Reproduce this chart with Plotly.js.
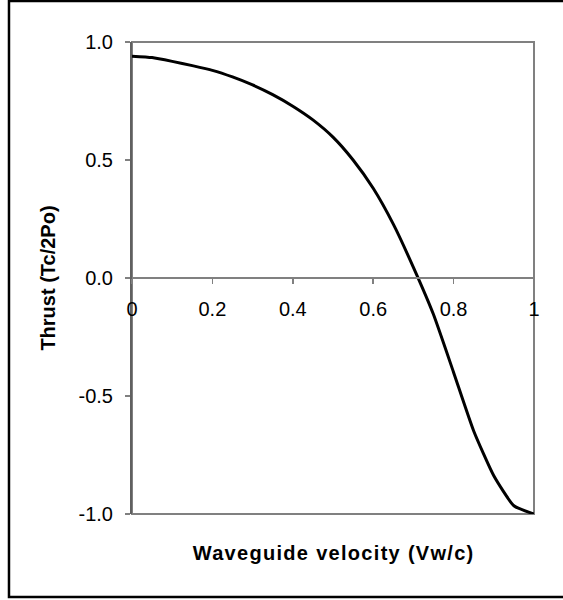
<!DOCTYPE html>
<html>
<head>
<meta charset="utf-8">
<script src="https://cdn.plot.ly/plotly-3.0.1.min.js"></script>
<style>
html,body{margin:0;padding:0;background:#fff;}
#chart .annotation-text{letter-spacing:1.3px;}
</style>
</head>
<body>
<div id="chart" style="width:563px;height:600px;"></div>
<script>
var velocity = [0, 0.05, 0.10, 0.15, 0.20, 0.25, 0.30, 0.35, 0.40, 0.45, 0.50,
                0.55, 0.60, 0.65, 0.70, 0.75, 0.80, 0.85, 0.90, 0.95, 1.00];
var thrust = [0.940, 0.934, 0.918, 0.900, 0.880, 0.852, 0.818, 0.777, 0.728, 0.670, 0.597,
              0.500, 0.380, 0.228, 0.045, -0.155, -0.400, -0.648, -0.838, -0.965, -1.000];
var xTicks = [0, 0.2, 0.4, 0.6, 0.8, 1];
var xTickLabels = ['0', '0.2', '0.4', '0.6', '0.8', '1'];
var yTicks = [-1, -0.5, 0, 0.5, 1];
var yTickLabels = ['-1.0', '-0.5', '0.0', '0.5', '1.0'];

var font = 'Liberation Sans, Arial, sans-serif';

var data = [{
  x: velocity, y: thrust, type: 'scatter', mode: 'lines',
  line: {color: '#000000', width: 3, shape: 'spline', smoothing: 0.5}, hoverinfo: 'skip'
}];

var layout = {
  width: 563, height: 600,
  margin: {l: 132, r: 29, t: 42, b: 86},
  paper_bgcolor: '#ffffff', plot_bgcolor: '#ffffff',
  showlegend: false,
  font: {family: font, size: 20, color: '#000000'},
  xaxis: {
    range: [0, 1], anchor: 'free', position: 0.5,
    tickvals: xTicks, ticktext: xTickLabels,
    ticks: 'outside', ticklen: 5, tickcolor: '#808080', tickwidth: 1.5,
    showline: true, linecolor: '#808080', linewidth: 2,
    showgrid: false, zeroline: false,
    ticklabelstandoff: 8,
    tickfont: {family: font, size: 20, color: '#000000'}
  },
  yaxis: {
    range: [-1, 1],
    tickvals: yTicks, ticktext: yTickLabels,
    ticks: 'outside', ticklen: 5, tickcolor: '#808080', tickwidth: 1.5,
    showline: true, linecolor: '#606060', linewidth: 2,
    showgrid: false, zeroline: false,
    ticklabelstandoff: 8,
    tickfont: {family: font, size: 20, color: '#000000'},
    title: {text: 'Thrust (Tc/2Po)', standoff: 18,
            font: {family: font, size: 20, color: '#000000', weight: 'bold'}}
  },
  annotations: [{
    xref: 'paper', yref: 'paper', x: 0.5, y: -0.083, xanchor: 'center', yanchor: 'middle',
    text: 'Waveguide velocity (Vw/c)', showarrow: false,
    font: {family: font, size: 20, color: '#000000', weight: 'bold'}
  }],
  shapes: [
    {type: 'rect', xref: 'paper', yref: 'paper', x0: 0, x1: 1, y0: 0, y1: 1,
     line: {color: '#808080', width: 2}, layer: 'below'},
    {type: 'rect', xref: 'paper', yref: 'paper', x0: -0.306, x1: 1.1, y0: -0.176, y1: 1.087,
     line: {color: '#000000', width: 2.5}, layer: 'below'}
  ]
};

Plotly.newPlot('chart', data, layout, {staticPlot: true, displayModeBar: false});
</script>
</body>
</html>
